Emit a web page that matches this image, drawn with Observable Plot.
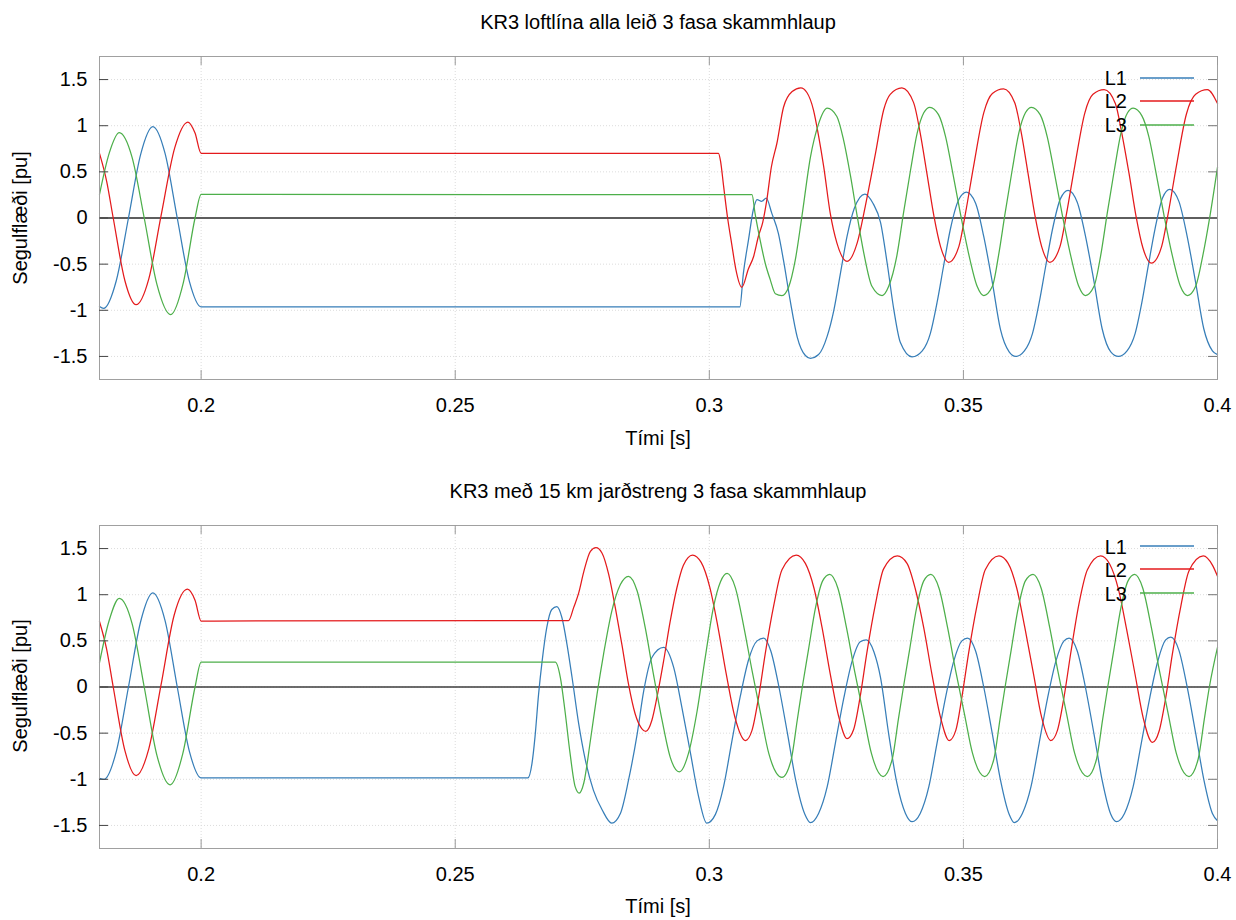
<!DOCTYPE html>
<html>
<head>
<meta charset="utf-8">
<script src="https://cdn.jsdelivr.net/npm/d3@7"></script>
<script src="https://cdn.jsdelivr.net/npm/@observablehq/plot@0.6"></script>
<style>
  html, body { margin: 0; padding: 0; background: #fff; }
  body { font-family: "Liberation Sans", Arial, sans-serif; color: #000; }
  #wrap { position: relative; width: 1236px; height: 920px; overflow: hidden; }
  .svgbox { position: absolute; left: 0; width: 1236px; }
  .lbl { position: absolute; left: 99px; width: 1118px; text-align: center; font-size: 20px; line-height: 20px; white-space: nowrap; }
  .ylab { position: absolute; font-size: 20px; line-height: 20px; white-space: nowrap; transform: translate(-50%, -50%) rotate(-90deg); }
</style>
</head>
<body>
<div id="wrap"></div>
<script>
// ---------- text ----------
const title1 = "KR3 loftlína alla leið 3 fasa skammhlaup";
const title2 = "KR3 með 15 km jarðstreng 3 fasa skammhlaup";
const xLabel = "Tími [s]";
const yLabel = "Segulflæði [pu]";

// ---------- legend / scales ----------
const seriesNames = ["L1", "L2", "L3"];
const seriesColors = ["#377eb8", "#e41a1c", "#4daf4a"];
const xTicks = [0.2, 0.25, 0.3, 0.35, 0.4];
const yTicks = [-1.5, -1, -0.5, 0, 0.5, 1, 1.5];
const xDomain = [0.18, 0.4];
const yDomain = [-1.75, 1.75];

// ---------- panel 1: loftlína (time s, flux pu) ----------
const topL1 = [[0.18,-0.96],[0.1808,-0.98],[0.1833,-0.68],[0.1857,0.0],[0.1881,0.69],[0.1905,0.99],[0.1929,0.70],[0.1953,0.0],[0.1977,-0.69],[0.2,-0.964],
[0.3060,-0.964],[0.3067,-0.60],[0.3077,-0.24],[0.3087,0.10],[0.3094,0.20],[0.3103,0.18],[0.3112,0.215],[0.3123,0.05],[0.3136,-0.17],[0.3146,-0.46],[0.3159,-0.89],[0.3173,-1.29],[0.3189,-1.49],[0.3199,-1.52],
[0.3215,-1.48],[0.3232,-1.28],[0.3245,-1.00],[0.3258,-0.60],[0.3271,-0.20],[0.3285,0.10],[0.3306,0.26],[0.3322,0.16],[0.3337,-0.05],[0.3350,-0.49],[0.3363,-0.99],[0.3376,-1.35],[0.3399,-1.505],
[0.3419,-1.44],[0.3435,-1.25],[0.3448,-0.92],[0.3461,-0.52],[0.3474,-0.13],[0.3491,0.20],[0.3506,0.28],[0.3524,0.16],[0.3540,-0.20],[0.3557,-0.70],[0.3573,-1.21],[0.3590,-1.45],[0.3603,-1.50],
[0.3620,-1.44],[0.3636,-1.25],[0.3649,-0.92],[0.3662,-0.52],[0.3675,-0.13],[0.3691,0.21],[0.3706,0.30],[0.3724,0.17],[0.3740,-0.19],[0.3757,-0.69],[0.3773,-1.20],[0.3790,-1.45],[0.3805,-1.50],
[0.3822,-1.44],[0.3838,-1.25],[0.3851,-0.92],[0.3864,-0.51],[0.3877,-0.12],[0.3892,0.22],[0.3906,0.31],[0.3924,0.18],[0.3940,-0.19],[0.3957,-0.70],[0.3973,-1.20],[0.3990,-1.44],[0.4,-1.48]];

const topL2 = [[0.18,0.70],[0.1814,0.40],[0.1827,0.0],[0.1850,-0.68],[0.1872,-0.94],[0.1897,-0.66],[0.1921,0.02],[0.1948,0.76],[0.1974,1.04],[0.1988,0.92],[0.2,0.70],
[0.3018,0.70],[0.3022,0.62],[0.3028,0.35],[0.3036,0.0],[0.3044,-0.28],[0.3052,-0.55],[0.3064,-0.75],[0.3077,-0.55],[0.3087,-0.42],[0.3097,-0.19],[0.3105,-0.05],[0.3113,0.19],[0.3122,0.55],[0.3133,0.81],[0.3146,1.20],[0.3163,1.37],[0.3180,1.41],
[0.3192,1.36],[0.3205,1.17],[0.3215,0.89],[0.3225,0.56],[0.3238,0.05],[0.3251,-0.27],[0.3271,-0.47],[0.3291,-0.27],[0.3307,0.13],[0.3327,0.70],[0.3343,1.17],[0.3356,1.34],[0.3379,1.41],
[0.3402,1.25],[0.3415,0.92],[0.3428,0.49],[0.3442,0.02],[0.3455,-0.31],[0.3471,-0.48],[0.3491,-0.31],[0.3504,0.05],[0.3520,0.56],[0.3540,1.14],[0.3557,1.35],[0.3579,1.40],
[0.3601,1.25],[0.3614,0.92],[0.3627,0.49],[0.3641,0.02],[0.3654,-0.31],[0.3670,-0.48],[0.3690,-0.31],[0.3703,0.05],[0.3719,0.56],[0.3739,1.14],[0.3755,1.34],[0.3777,1.39],
[0.3799,1.24],[0.3812,0.91],[0.3826,0.48],[0.3840,0.01],[0.3853,-0.32],[0.3870,-0.49],[0.3890,-0.31],[0.3903,0.05],[0.3919,0.56],[0.3939,1.13],[0.3957,1.34],[0.3980,1.39],[0.4,1.24]];

const topL3 = [[0.18,0.255],[0.1819,0.70],[0.1839,0.925],[0.1864,0.66],[0.1888,0.0],[0.1913,-0.72],[0.1940,-1.047],[0.1965,-0.70],[0.1988,0.0],[0.2,0.256],
[0.3084,0.253],[0.3090,0.05],[0.3100,-0.24],[0.3110,-0.49],[0.3120,-0.67],[0.3130,-0.82],[0.3143,-0.84],[0.3156,-0.75],[0.3169,-0.46],[0.3182,0.01],[0.3199,0.66],[0.3215,1.02],[0.3232,1.19],
[0.3251,1.10],[0.3264,0.85],[0.3278,0.45],[0.3291,0.02],[0.3304,-0.38],[0.3320,-0.74],[0.3340,-0.84],[0.3353,-0.74],[0.3369,-0.41],[0.3382,0.05],[0.3396,0.52],[0.3409,0.92],[0.3422,1.14],[0.3434,1.20],
[0.3451,1.12],[0.3465,0.88],[0.3478,0.52],[0.3494,0.05],[0.3510,-0.38],[0.3527,-0.74],[0.3540,-0.84],[0.3557,-0.74],[0.3569,-0.41],[0.3582,0.05],[0.3596,0.52],[0.3609,0.92],[0.3622,1.14],[0.3634,1.20],
[0.3651,1.12],[0.3665,0.88],[0.3678,0.52],[0.3694,0.05],[0.3710,-0.38],[0.3727,-0.74],[0.3740,-0.84],[0.3757,-0.74],[0.3770,-0.41],[0.3783,0.05],[0.3797,0.52],[0.3810,0.92],[0.3823,1.14],[0.3834,1.19],
[0.3851,1.11],[0.3865,0.88],[0.3878,0.52],[0.3894,0.05],[0.3910,-0.38],[0.3927,-0.74],[0.3941,-0.84],[0.3957,-0.74],[0.3971,-0.41],[0.3986,0.05],[0.4,0.55]];

// ---------- panel 2: 15 km jarðstrengur ----------
const botL1 = [[0.18,-0.99],[0.1809,-1.00],[0.1833,-0.70],[0.1857,0.0],[0.1881,0.71],[0.1905,1.02],[0.1929,0.72],[0.1953,0.0],[0.1977,-0.70],[0.2,-0.985],
[0.2643,-0.985],[0.2651,-0.83],[0.2657,-0.54],[0.2664,-0.08],[0.2671,0.28],[0.2680,0.64],[0.2690,0.84],[0.2700,0.87],[0.2710,0.75],[0.2720,0.46],[0.2730,0.10],[0.2743,-0.40],[0.2756,-0.79],[0.2772,-1.12],[0.2789,-1.33],[0.2808,-1.475],
[0.2825,-1.37],[0.2841,-1.01],[0.2858,-0.51],[0.2871,-0.04],[0.2887,0.32],[0.2910,0.43],[0.2930,0.21],[0.2946,-0.22],[0.2963,-0.72],[0.2979,-1.19],[0.2995,-1.475],
[0.3012,-1.38],[0.3028,-1.08],[0.3044,-0.60],[0.3061,-0.10],[0.3077,0.29],[0.3094,0.50],[0.3107,0.53],[0.3121,0.39],[0.3137,0.0],[0.3154,-0.51],[0.3170,-1.01],[0.3188,-1.38],[0.3199,-1.47],
[0.3215,-1.37],[0.3232,-1.08],[0.3248,-0.61],[0.3265,-0.11],[0.3281,0.28],[0.3297,0.49],[0.3309,0.51],[0.3324,0.38],[0.3337,0.10],[0.3353,-0.51],[0.3369,-1.04],[0.3386,-1.37],[0.3399,-1.46],
[0.3415,-1.37],[0.3432,-1.08],[0.3448,-0.61],[0.3465,-0.11],[0.3481,0.28],[0.3497,0.50],[0.3508,0.53],[0.3524,0.39],[0.3540,0.0],[0.3557,-0.51],[0.3573,-1.01],[0.3590,-1.38],[0.3600,-1.47],
[0.3616,-1.37],[0.3633,-1.08],[0.3649,-0.61],[0.3666,-0.11],[0.3682,0.28],[0.3698,0.50],[0.3708,0.53],[0.3724,0.39],[0.3740,0.0],[0.3757,-0.51],[0.3773,-1.01],[0.3790,-1.38],[0.3801,-1.46],
[0.3817,-1.37],[0.3834,-1.08],[0.3850,-0.61],[0.3867,-0.11],[0.3883,0.29],[0.3898,0.51],[0.3908,0.54],[0.3924,0.40],[0.3940,0.01],[0.3957,-0.50],[0.3973,-1.00],[0.3990,-1.37],[0.4,-1.45]];

const botL2 = [[0.18,0.71],[0.1814,0.41],[0.1827,0.0],[0.1850,-0.69],[0.1872,-0.96],[0.1897,-0.67],[0.1921,0.02],[0.1947,0.78],[0.1973,1.06],[0.1988,0.94],[0.2,0.715],
[0.2723,0.72],[0.2733,0.86],[0.2743,1.02],[0.2753,1.25],[0.2766,1.47],[0.2777,1.51],[0.2789,1.45],[0.2802,1.22],[0.2815,0.86],[0.2828,0.46],[0.2841,0.03],[0.2854,-0.29],[0.2867,-0.45],[0.2875,-0.48],
[0.2887,-0.36],[0.2897,-0.11],[0.2910,0.28],[0.2923,0.71],[0.2936,1.07],[0.2949,1.32],[0.2967,1.43],
[0.2984,1.35],[0.3001,1.08],[0.3017,0.65],[0.3033,0.15],[0.3050,-0.32],[0.3071,-0.58],[0.3084,-0.47],[0.3097,-0.11],[0.3110,0.36],[0.3127,0.89],[0.3143,1.27],[0.3171,1.43],
[0.3189,1.34],[0.3206,1.07],[0.3222,0.64],[0.3238,0.14],[0.3255,-0.33],[0.3271,-0.56],[0.3284,-0.46],[0.3297,-0.10],[0.3310,0.37],[0.3327,0.90],[0.3343,1.28],[0.3370,1.42],
[0.3389,1.34],[0.3405,1.07],[0.3422,0.64],[0.3438,0.14],[0.3455,-0.33],[0.3472,-0.58],[0.3485,-0.47],[0.3497,-0.11],[0.3510,0.36],[0.3527,0.89],[0.3543,1.27],[0.3570,1.42],
[0.3588,1.34],[0.3605,1.07],[0.3621,0.64],[0.3638,0.14],[0.3654,-0.33],[0.3672,-0.58],[0.3685,-0.47],[0.3698,-0.11],[0.3711,0.36],[0.3727,0.89],[0.3744,1.27],[0.3770,1.42],
[0.3788,1.33],[0.3805,1.06],[0.3821,0.63],[0.3838,0.13],[0.3854,-0.34],[0.3872,-0.60],[0.3885,-0.48],[0.3898,-0.12],[0.3911,0.35],[0.3928,0.88],[0.3944,1.26],[0.3972,1.42],[0.3990,1.32],[0.4,1.20]];

const botL3 = [[0.18,0.265],[0.1819,0.72],[0.1839,0.96],[0.1864,0.69],[0.1888,0.0],[0.1913,-0.74],[0.1939,-1.06],[0.1964,-0.72],[0.1988,0.0],[0.2,0.27],
[0.2697,0.27],[0.2707,0.10],[0.2716,-0.26],[0.2726,-0.72],[0.2736,-1.08],[0.2744,-1.15],[0.2753,-1.04],[0.2766,-0.58],[0.2779,-0.08],[0.2792,0.36],[0.2808,0.82],[0.2825,1.11],[0.2841,1.20],
[0.2858,1.04],[0.2874,0.64],[0.2890,0.14],[0.2907,-0.36],[0.2923,-0.76],[0.2941,-0.92],[0.2959,-0.72],[0.2976,-0.26],[0.2992,0.32],[0.3008,0.86],[0.3022,1.14],[0.3035,1.23],
[0.3051,1.08],[0.3068,0.65],[0.3084,0.18],[0.3101,-0.29],[0.3117,-0.72],[0.3143,-0.98],[0.3161,-0.79],[0.3173,-0.36],[0.3183,0.0],[0.3195,0.40],[0.3209,0.86],[0.3223,1.15],[0.3237,1.22],
[0.3253,1.07],[0.3270,0.64],[0.3286,0.17],[0.3303,-0.29],[0.3319,-0.72],[0.3342,-0.97],[0.3360,-0.78],[0.3372,-0.35],[0.3382,0.0],[0.3394,0.40],[0.3408,0.86],[0.3422,1.15],[0.3436,1.22],
[0.3452,1.07],[0.3469,0.64],[0.3485,0.17],[0.3502,-0.29],[0.3518,-0.72],[0.3542,-0.97],[0.3560,-0.78],[0.3572,-0.35],[0.3582,0.0],[0.3594,0.40],[0.3608,0.86],[0.3622,1.15],[0.3637,1.22],
[0.3653,1.07],[0.3670,0.64],[0.3686,0.17],[0.3703,-0.29],[0.3719,-0.72],[0.3744,-0.97],[0.3762,-0.78],[0.3774,-0.35],[0.3784,0.0],[0.3796,0.40],[0.3810,0.86],[0.3824,1.15],[0.3837,1.22],
[0.3853,1.07],[0.3870,0.64],[0.3886,0.17],[0.3903,-0.29],[0.3919,-0.72],[0.3944,-0.97],[0.3962,-0.78],[0.3974,-0.35],[0.3984,0.0],[0.4,0.43]];

// ---------- rendering ----------
const FONT = '"Liberation Sans", Arial, sans-serif';
const wrap = document.getElementById("wrap");

function addText(cls, txt, styles) {
  const d = document.createElement("div");
  d.className = cls;
  d.textContent = txt;
  Object.assign(d.style, styles);
  wrap.appendChild(d);
}

function makePanel(cfg) {
  const rows = [];
  cfg.series.forEach((arr, i) => arr.forEach(([t, v]) => rows.push({t, v, s: seriesNames[i]})));
  const W = 1236, mL = 99, mR = 19;
  const pw = W - mL - mR;
  const ph = cfg.height - cfg.marginTop - cfg.marginBottom;
  const svg = Plot.plot({
    width: W, height: cfg.height,
    marginLeft: mL, marginRight: mR, marginTop: cfg.marginTop, marginBottom: cfg.marginBottom,
    style: {fontFamily: FONT, fontSize: "20px", background: "transparent", color: "#000", overflow: "visible"},
    x: {domain: xDomain},
    y: {domain: yDomain},
    color: {domain: seriesNames, range: seriesColors},
    marks: [
      Plot.gridY(yTicks, {stroke: "#dcdcdc", strokeOpacity: 1, strokeWidth: 1, strokeDasharray: "1,2"}),
      Plot.gridX(xTicks, {stroke: "#dcdcdc", strokeOpacity: 1, strokeWidth: 1, strokeDasharray: "1,2"}),
      Plot.ruleY([0], {stroke: cfg.zeroColor, strokeWidth: cfg.zeroWidth}),
      Plot.line(rows, {x: "t", y: "v", z: "s", stroke: "s", curve: "monotone-x", strokeWidth: 1.25}),
      Plot.frame({stroke: "#a0a0a0"}),
      Plot.tickY(yTicks, {y: d => d, insetRight: pw - 9, stroke: "#444"}),
      Plot.tickY(yTicks, {y: d => d, insetLeft: pw - 9, stroke: "#777"}),
      Plot.tickX(xTicks, {x: d => d, insetBottom: ph - 9, stroke: "#999"}),
      Plot.tickX(xTicks, {x: d => d, insetTop: ph - 9, stroke: "#999"}),
      Plot.axisY(yTicks, {tickSize: 0, tickPadding: 12, tickFormat: d => String(d), label: null, fontSize: 20}),
      Plot.axisX(xTicks, {tickSize: 0, tickPadding: 18, tickFormat: d => String(d), label: null, fontSize: 20})
    ]
  });
  // legend (top-right, inside the frame)
  const g = d3.select(svg).append("g").attr("font-family", FONT).attr("font-size", 20);
  seriesNames.forEach((n, i) => {
    g.append("text").attr("x", 1127).attr("y", cfg.legendTextY + i * 23.3)
      .attr("text-anchor", "end").attr("fill", "#000").text(n);
    const ly = Math.round(cfg.legendLineY + i * 23.3);
    g.append("line").attr("x1", 1140).attr("x2", 1194)
      .attr("y1", ly).attr("y2", ly)
      .attr("stroke", seriesColors[i]).attr("stroke-width", 1.3);
  });
  const box = document.createElement("div");
  box.className = "svgbox";
  box.style.top = cfg.top + "px";
  box.style.height = cfg.height + "px";
  box.appendChild(svg);
  wrap.appendChild(box);
}

makePanel({series: [topL1, topL2, topL3], top: 0, height: 460, marginTop: 56, marginBottom: 81,
  zeroColor: "#5e5e5e", zeroWidth: 2, legendTextY: 85, legendLineY: 78});
makePanel({series: [botL1, botL2, botL3], top: 460, height: 460, marginTop: 65, marginBottom: 72,
  zeroColor: "#3c3c3c", zeroWidth: 1.5, legendTextY: 94, legendLineY: 86});

addText("lbl", title1, {top: "12px"});
addText("lbl", xLabel, {top: "428px"});
addText("ylab", yLabel, {left: "20px", top: "218px"});
addText("lbl", title2, {top: "481px"});
addText("lbl", xLabel, {top: "896px"});
addText("ylab", yLabel, {left: "20px", top: "686px"});
</script>
</body>
</html>
